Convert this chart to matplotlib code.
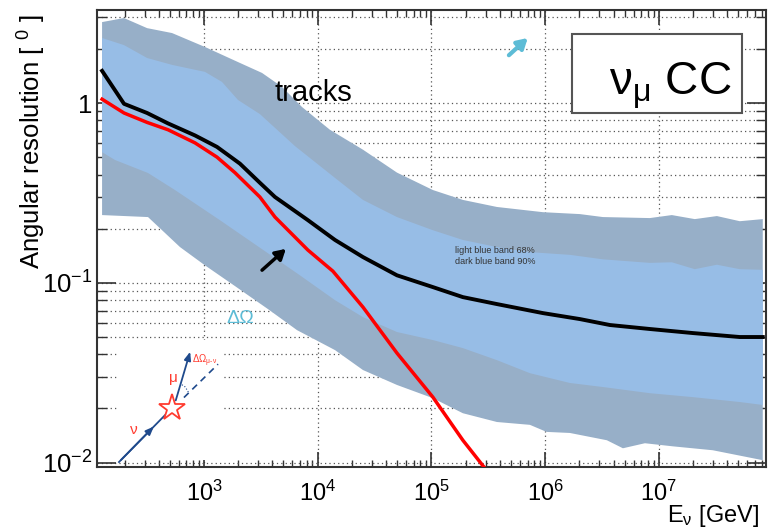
import numpy as np
import matplotlib
matplotlib.use('Agg')
import matplotlib.pyplot as plt
from matplotlib.patches import Rectangle
from matplotlib.ticker import LogLocator, FuncFormatter, NullFormatter

plt.rcParams['font.family'] = ['Liberation Sans', 'DejaVu Sans']
plt.rcParams['mathtext.fontset'] = 'custom'
plt.rcParams['mathtext.rm'] = 'Liberation Sans'
plt.rcParams['mathtext.it'] = 'Liberation Sans:italic'
plt.rcParams['mathtext.default'] = 'regular'

# median angular resolution, tracks (black) and kinematic nu-mu angle (red)
e_median = [127, 198, 316, 483, 834, 1301, 2070, 3100, 4210, 8200, 14200, 25000, 49800,
            103000, 189000, 377000, 955000, 2.02e6, 3.71e6, 8.33e6, 1.99e7, 5.15e7, 8.2e7]
res_median = [1.51, 0.99, 0.88, 0.77, 0.66, 0.57, 0.46, 0.36, 0.30, 0.223, 0.173, 0.139, 0.110,
              0.0946, 0.0832, 0.0761, 0.0678, 0.0628, 0.0582, 0.0553, 0.0525, 0.0499, 0.0499]

e_kin = [127, 198, 316, 483, 834, 1301, 1870, 3100, 4210, 8200, 13600, 25000, 49800,
         103000, 189000, 295000, 340000]
res_kin = [1.05, 0.88, 0.78, 0.71, 0.60, 0.50, 0.41, 0.30, 0.232, 0.152, 0.116, 0.0732, 0.0406,
           0.0231, 0.0133, 0.0093, 0.0083]

# 90% band
e90_hi = [127, 198, 316, 524, 1020, 1990, 3240, 4850, 7280, 12800, 25000, 49800, 103000,
          189000, 377000, 955000, 2.02e6, 3.22e6, 8.33e6, 1.30e7, 2.07e7, 3.24e7, 5.15e7, 8.2e7]
r90_hi = [2.82, 2.97, 2.61, 2.45, 2.05, 1.69, 1.47, 1.23, 0.95, 0.71, 0.55, 0.41, 0.328,
          0.289, 0.264, 0.247, 0.241, 0.232, 0.229, 0.238, 0.226, 0.235, 0.220, 0.226]
e90_lo = [127, 322, 428, 615, 1020, 1870, 3650, 6580, 14200, 25000, 49800, 103000, 189000,
          377000, 735000, 1.03e6, 1.65e6, 3.49e6, 4.83e6, 7.54e6, 1.33e7, 2.98e7, 8.2e7]
r90_lo = [0.238, 0.232, 0.196, 0.158, 0.125, 0.0959, 0.0714, 0.0545, 0.0422, 0.0327, 0.0270,
          0.0228, 0.0188, 0.0168, 0.0162, 0.0148, 0.0146, 0.0133, 0.0120, 0.0128, 0.0123,
          0.0117, 0.0103]

# 68% band
e68_hi = [127, 198, 316, 524, 1020, 1440, 1990, 3100, 6310, 14200, 25000, 49800, 103000,
          189000, 377000, 735000, 1.65e6, 3.22e6, 8.33e6, 1.30e7, 2.07e7, 3.24e7, 5.15e7, 8.2e7]
r68_hi = [2.30, 2.10, 1.78, 1.63, 1.49, 1.31, 1.04, 0.868, 0.576, 0.383, 0.289, 0.232, 0.196,
          0.173, 0.158, 0.148, 0.143, 0.135, 0.129, 0.130, 0.119, 0.126, 0.119, 0.118]
e68_lo = [127, 165, 322, 556, 1380, 3650, 6980, 14200, 25000, 49800, 103000, 189000, 377000,
          735000, 1.65e6, 3.22e6, 8.33e6, 2.0e7, 5.15e7, 8.2e7]
r68_lo = [0.533, 0.482, 0.408, 0.328, 0.223, 0.146, 0.110, 0.080, 0.0644, 0.0532, 0.048,
          0.0433, 0.0371, 0.0314, 0.0277, 0.0263, 0.0243, 0.0231, 0.0217, 0.0209]

xticks = [1e3, 1e4, 1e5, 1e6, 1e7]
yticks = [0.01, 0.1, 1]
ytick_labels = {0.01: '$10^{-2}$', 0.1: '$10^{-1}$', 1: '1'}

dark_blue = '#97afc8'
light_blue = '#97bde6'
cyan = '#5dbcd6'

fig = plt.figure(figsize=(7.68, 5.29), dpi=100)
ax = fig.add_axes([0.1263, 0.1172, 0.8707, 0.8638])
ax.set_xscale('log')
ax.set_yscale('log')
ax.set_xlim(114.6, 8.7e7)
ax.set_ylim(0.00944, 3.29)

# bands as closed polygons
ax.fill(np.concatenate([e90_hi, e90_lo[::-1]]), np.concatenate([r90_hi, r90_lo[::-1]]),
        color=dark_blue, lw=0, zorder=2)
ax.fill(np.concatenate([e68_hi, e68_lo[::-1]]), np.concatenate([r68_hi, r68_lo[::-1]]),
        color=light_blue, lw=0, zorder=3)

ax.plot(e_median, res_median, color='black', lw=2.8, zorder=5, solid_joinstyle='round')
ax.plot(e_kin, res_kin, color='red', lw=2.5, zorder=5, solid_joinstyle='round')

# ticks, ROOT style
ax.xaxis.set_major_locator(LogLocator(base=10, numticks=20))
ax.xaxis.set_minor_locator(LogLocator(base=10, subs=np.arange(2, 10), numticks=20))
ax.xaxis.set_minor_formatter(NullFormatter())
ax.set_xticks(xticks)
ax.set_xticklabels(['$10^{%d}$' % np.log10(t) for t in xticks])
ax.set_yticks(yticks)
ax.yaxis.set_major_formatter(FuncFormatter(lambda v, p: ytick_labels.get(round(v, 4), '')))
ax.yaxis.set_minor_locator(LogLocator(base=10, subs=np.arange(2, 10), numticks=20))
ax.yaxis.set_minor_formatter(NullFormatter())

ax.tick_params(axis='both', which='both', direction='in', top=True, right=True,
               color='#333333')
ax.tick_params(axis='x', which='major', length=11, width=1.2, pad=10, labelsize=17)
ax.tick_params(axis='x', which='minor', length=5, width=1)
ax.tick_params(axis='y', which='major', length=14, width=1.2, pad=3, labelsize=18.5)
ax.tick_params(axis='y', which='minor', length=7, width=1)
for s in ax.spines.values():
    s.set_color('#333333')
    s.set_linewidth(1.5)

ax.grid(True, axis='x', which='major', color='#555555', lw=0.9, ls=(0, (1, 2.5)), zorder=1)
ax.grid(True, axis='y', which='both', color='#555555', lw=0.9, ls=(0, (1, 2.5)), zorder=1)
ax.set_axisbelow(True)

ax.set_ylabel('Angular resolution [ $^{0}$ ]', fontsize=18.5)
ax.yaxis.set_label_coords(-0.074, 0.712)
ax.text(0.991, -0.120, r'E$_{\nu}$ [GeV]', transform=ax.transAxes, ha='right', va='baseline',
        fontsize=17, clip_on=False)

# annotations
ax.text(0.266, 0.801, 'tracks', transform=ax.transAxes, fontsize=21, zorder=6)
ax.text(0.535, 0.462, 'light blue band 68%\ndark blue band 90%', transform=ax.transAxes,
        fontsize=6.5, color='#333333', va='center', linespacing=1.3, zorder=6)
ax.text(0.214, 0.324, 'ΔΩ', transform=ax.transAxes, fontsize=14, color=cyan,
        ha='center', va='center', zorder=6)

ax.add_patch(Rectangle((0.710, 0.7746), 0.254, 0.173, transform=ax.transAxes,
                       facecolor='white', edgecolor='#555555', lw=1.5, zorder=7))
ax.text(0.858, 0.812, r'$\nu_{\mu}$ CC', transform=ax.transAxes, fontsize=33,
        ha='center', va='baseline', zorder=8)

ax.annotate('', xy=(0.6472, 0.943), xytext=(0.6129, 0.897), xycoords='axes fraction',
            arrowprops=dict(arrowstyle='-|>,head_length=0.6,head_width=0.35', color=cyan, lw=3),
            zorder=8)
ax.annotate('', xy=(0.2855, 0.4814), xytext=(0.2437, 0.4267), xycoords='axes fraction',
            arrowprops=dict(arrowstyle='-|>,head_length=0.6,head_width=0.35', color='black', lw=2.5),
            zorder=8)

# interaction sketch
ax.add_patch(Rectangle((0.0314, 0.0153), 0.1556, 0.2627, transform=ax.transAxes,
                       facecolor='white', edgecolor='none', zorder=1.5))
navy = '#1f4a8c'
ax.plot([0.0329, 0.1121], [0.0109, 0.129], transform=ax.transAxes, color=navy, lw=1.3, zorder=6)
ax.annotate('', xy=(0.0880, 0.0930), xytext=(0.0329, 0.0109), xycoords='axes fraction',
            arrowprops=dict(arrowstyle='-|>,head_length=0.5,head_width=0.2', color=navy, lw=1.3),
            zorder=6)
ax.annotate('', xy=(0.1405, 0.258), xytext=(0.1166, 0.140), xycoords='axes fraction',
            arrowprops=dict(arrowstyle='-|>,head_length=0.5,head_width=0.2', color=navy, lw=1.3),
            zorder=6)
ax.plot([0.1300, 0.181], [0.152, 0.225], transform=ax.transAxes, color=navy, lw=1.2,
        ls=(0, (4, 3)), zorder=6)
ax.plot([0.1270, 0.1320, 0.1370], [0.180, 0.175, 0.163], transform=ax.transAxes, color=navy,
        lw=0.8, ls=':', zorder=6)
ax.plot([0.1121], [0.129], marker='*', ms=20, mfc='white', mec='#ff3b2f', mew=1.3,
        transform=ax.transAxes, zorder=7)
ax.text(0.1136, 0.195, 'μ', transform=ax.transAxes, fontsize=11, color='#ff3b2f',
        ha='center', va='center', zorder=7)
ax.text(0.0553, 0.081, 'ν', transform=ax.transAxes, fontsize=11, color='#ff3b2f',
        ha='center', va='center', zorder=7)
ax.text(0.142, 0.232, r'$\Delta\Omega_{\mu\text{-}\nu}$', transform=ax.transAxes, fontsize=7,
        color='#ff3b2f', ha='left', va='center', zorder=7)

fig.savefig('out.png', dpi=100)
